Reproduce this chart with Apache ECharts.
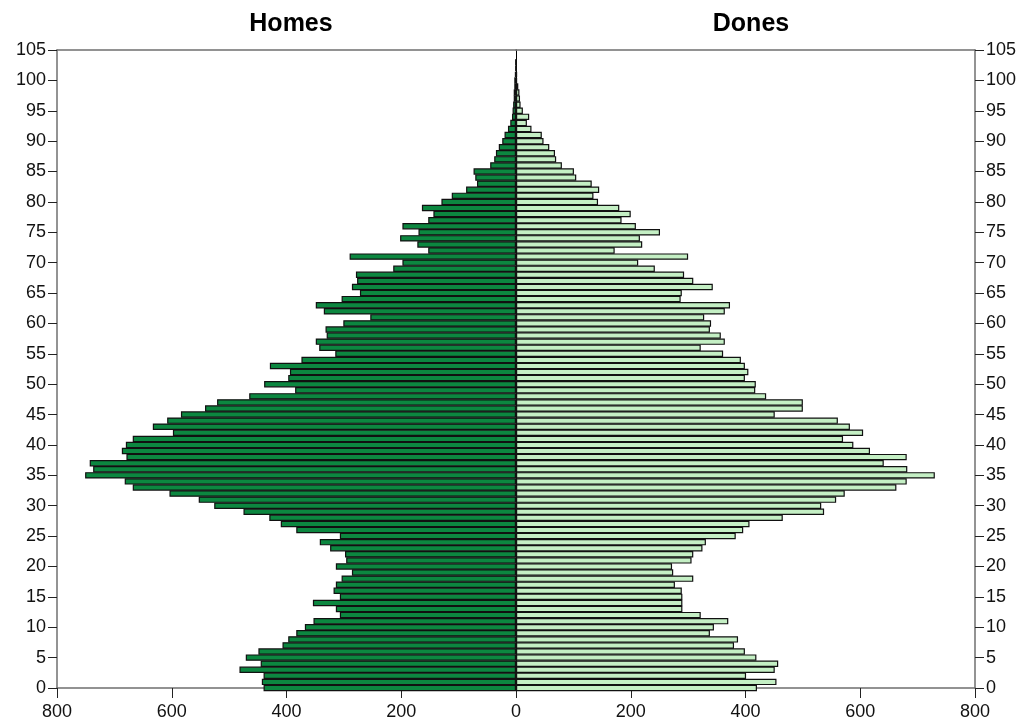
<!DOCTYPE html>
<html>
<head>
<meta charset="utf-8">
<script src="https://cdn.jsdelivr.net/npm/echarts@6/dist/echarts.min.js"></script>
<style>
  html, body { margin: 0; padding: 0; background: #fff; }
  #chart { width: 1023px; height: 724px; }
</style>
</head>
<body>
<div id="chart"></div>
<script>
// population by single year of age, index = age (0..103)
const homes = [
  440, 443, 440, 482, 445, 471, 449, 407, 397, 383,
  368, 353, 307, 314, 354, 307, 318, 314, 304, 286,
  314, 296, 298, 324, 342, 307, 383, 410, 430, 475,
  526, 553, 604, 668, 682, 751, 737, 743, 679, 687,
  680, 668, 598, 633, 608, 584, 542, 521, 465, 385,
  439, 397, 394, 429, 374, 315, 343, 349, 330, 332,
  301, 254, 335, 349, 304, 272, 286, 277, 279, 214,
  198, 290, 153, 172, 202, 170, 198, 153, 144, 164,
  130, 112, 87, 68, 71, 74, 45, 38, 35, 30,
  24, 20, 14, 10, 7, 6, 5, 4, 4, 3,
  3, 2, 1, 1
]
const dones = [
  420, 454, 401, 451, 457, 419, 399, 380, 387, 338,
  345, 370, 322, 290, 290, 290, 289, 277, 309, 274,
  272, 306, 309, 325, 331, 383, 396, 407, 465, 537,
  532, 558, 573, 663, 681, 730, 682, 641, 681, 617,
  588, 570, 605, 582, 561, 451, 500, 500, 436, 417,
  418, 399, 405, 399, 392, 361, 322, 364, 357, 338,
  340, 328, 364, 373, 287, 289, 343, 309, 293, 242,
  213, 300, 172, 220, 216, 251, 209, 184, 200, 180,
  143, 135, 145, 132, 105, 101, 80, 70, 68, 58,
  48, 45, 27, 19, 23, 12, 8, 7, 6, 4,
  2, 2, 1, 1
]
const titles = ['Homes', 'Dones']

const ageMax = 105
const ages = []
for (let i = 0; i <= ageMax; i++) {
  ages.push(String(i))
}

const axisColor = '#6f6f6f'
const textColor = '#111'
const fontFamily = 'Liberation Sans, Arial, sans-serif'
const labelFont = { color: textColor, fontSize: 18, fontFamily: fontFamily }

function valueX(gridIndex, inverse, hideZero) {
  return {
    type: 'value',
    gridIndex: gridIndex,
    min: 0,
    max: 800,
    interval: 200,
    inverse: inverse,
    position: 'bottom',
    axisLine: { show: true, onZero: false, lineStyle: { color: axisColor, width: 1.5 } },
    axisTick: { show: true, inside: false, length: 10, lineStyle: { color: '#222' } },
    axisLabel: Object.assign({
      margin: 15,
      formatter: v => (hideZero && v === 0 ? '' : String(v))
    }, labelFont),
    splitLine: { show: false }
  }
}

function topX(gridIndex, inverse) {
  return {
    type: 'value',
    gridIndex: gridIndex,
    min: 0,
    max: 800,
    inverse: inverse,
    position: 'top',
    axisLine: { show: true, onZero: false, lineStyle: { color: axisColor, width: 1.5 } },
    axisTick: { show: false },
    axisLabel: { show: false },
    splitLine: { show: false }
  }
}

function ageAxis(gridIndex, position) {
  return {
    type: 'value',
    gridIndex: gridIndex,
    min: 0,
    max: 105,
    interval: 5,
    position: position,
    axisLine: { show: true, onZero: false, lineStyle: { color: axisColor, width: 1.5 } },
    axisTick: { show: true, inside: false, length: 9, lineStyle: { color: '#222' } },
    axisLabel: Object.assign({ margin: 11 }, labelFont),
    splitLine: { show: false }
  }
}

function barAxis(gridIndex, showLine) {
  return {
    type: 'category',
    gridIndex: gridIndex,
    data: ages,
    boundaryGap: false,
    position: 'left',
    axisLine: { show: showLine, onZero: false, lineStyle: { color: '#000', width: 1 } },
    axisTick: { show: false },
    axisLabel: { show: false },
    splitLine: { show: false }
  }
}

function barSeries(name, data, xIndex, yIndex, color) {
  return {
    name: name,
    type: 'bar',
    xAxisIndex: xIndex,
    yAxisIndex: yIndex,
    data: data,
    barWidth: 6.4,
    clip: true,
    silent: true,
    itemStyle: {
      color: color,
      borderColor: '#111',
      borderWidth: 1.2
    },
    z: 1
  }
}

const chart = echarts.init(document.getElementById('chart'), null, { renderer: 'canvas' })
chart.setOption({
  backgroundColor: '#fff',
  animation: false,
  title: [{
    text: titles[0],
    left: 286,
    top: 7,
    textAlign: 'center',
    textStyle: { fontSize: 25, fontWeight: 'bold', color: '#000', fontFamily: fontFamily }
  }, {
    text: titles[1],
    left: 746,
    top: 7,
    textAlign: 'center',
    textStyle: { fontSize: 25, fontWeight: 'bold', color: '#000', fontFamily: fontFamily }
  }],
  grid: [
    { left: 57, right: 507, top: 50, bottom: 36 },
    { left: 516, right: 48, top: 50, bottom: 36 }
  ],
  xAxis: [
    valueX(0, true, true),
    valueX(1, false, false),
    topX(0, true),
    topX(1, false)
  ],
  yAxis: [
    ageAxis(0, 'left'),
    ageAxis(1, 'right'),
    barAxis(0, false),
    barAxis(1, true)
  ],
  series: [
    barSeries(titles[0], homes, 0, 2, '#0c8740'),
    barSeries(titles[1], dones, 1, 3, '#c4efc4')
  ]
})
</script>
</body>
</html>
